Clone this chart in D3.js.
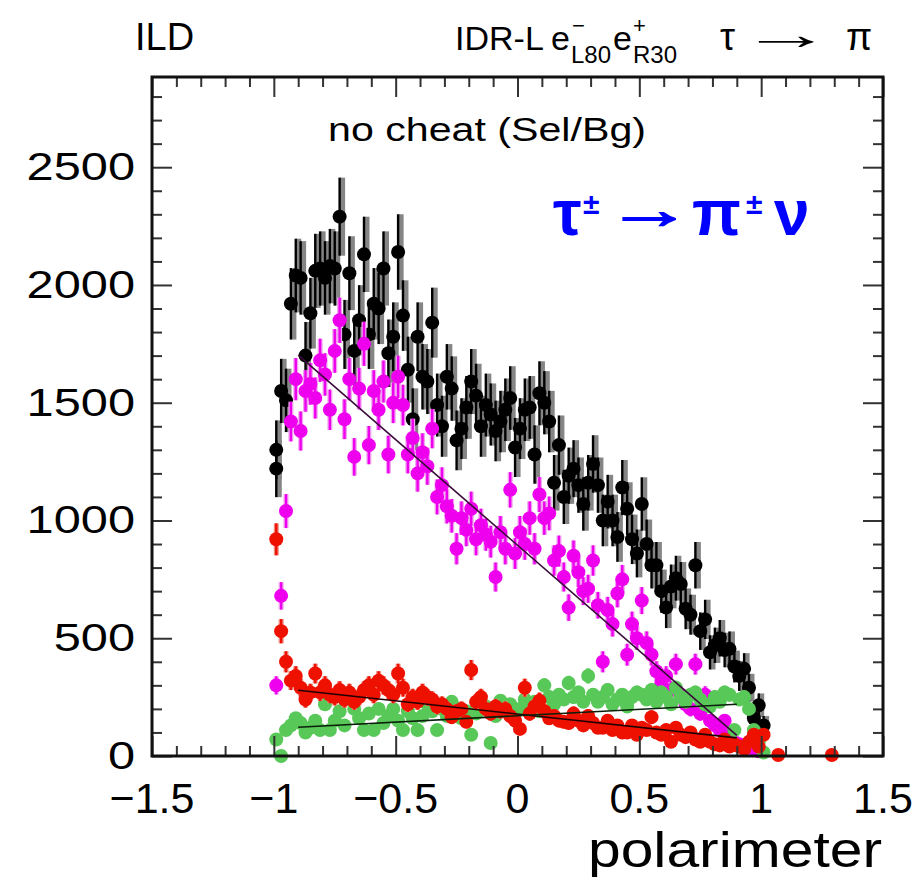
<!DOCTYPE html>
<html>
<head>
<meta charset="utf-8">
<script src="https://cdn.jsdelivr.net/npm/d3@7"></script>
<style>
  body { margin: 0; background: #fff; }
  text { font-family: "Liberation Sans", Arial, sans-serif; fill: #000; }
</style>
</head>
<body>
<script>
(function() {

    var width = 921;
    var height = 883;

    // bin centres: 100 bins of width 0.02 between -1 and 1
    const binCenters = d3.range(100).map(i => -0.99 + 0.02 * i);

    // total (selected) events, black
    const totalCounts = [
        1300, 1550, 1510, 1920, 2040, 2030, 1700, 1880, 2060, 2070,
        2030, 2080, 2070, 2290, 1790, 2050, 1720, 1850, 2130, 1790,
        1920, 1900, 2070, 1710, 1780, 2140, 1870, 1640, 1430, 1780,
        1610, 1590, 1840, 1490, 1400, 1610, 1560, 1340, 1390, 1480,
        1590, 1530, 1400, 1490, 1450, 1380, 1420, 1470, 1520, 1310,
        1390, 1470, 1480, 1280, 1540, 1500, 1420, 1160, 1320, 1100,
        1190, 1220, 1150, 1070, 1160, 1240, 1150, 1000, 1080, 1000,
        930, 1140, 1050, 920, 860, 1070, 900, 810, 810, 700,
        630, 720, 755, 730, 625, 600, 810, 530, 580, 440,
        470, 500, 450, 455, 380, 340, 370, 290, 160, 215
    ];

    // signal tau -> pi nu, magenta
    const signalCounts = [
        300, 680, 1040, 1420, 1600, 1380, 1550, 1580, 1520, 1680,
        1620, 1470, 1720, 1850, 1430, 1600, 1270, 1560, 1750, 1320,
        1550, 1470, 1590, 1280, 1500, 1610, 1490, 1280, 1350, 1200,
        1290, 1230, 1390, 1100, 1150, 1060, 1020, 880, 1010, 960,
        1050, 920, 980, 940, 910, 760, 950, 880, 1130, 860,
        950, 900, 1010, 880, 1110, 1010, 1030, 830, 870, 760,
        630, 850, 780, 700, 710, 830, 640, 400, 620, 560,
        690, 750, 430, 560, 500, 660, 480, 430, 360, 310,
        340, 280, 390, 260, 220, 200, 390, 180, 260, 150,
        130, 110, 150, 100, 60, 50, 45, 35, 30, 20
    ];

    // background, red
    const bgRedCounts = [
        920, 530, 400, 320, 340, 290, 240, 270, 350, 270,
        300, 260, 250, 280, 240, 270, 230, 250, 280, 300,
        260, 320, 300, 280, 260, 350, 290, 220, 250, 230,
        270, 250, 240, 210, 220, 200, 165, 190, 200, 145,
        365, 230, 250, 200, 180, 210, 190, 200, 170, 150,
        115, 290, 180, 210, 235, 190, 160, 170, 150, 145,
        140, 180, 150, 130, 170, 140, 120, 120, 150, 110,
        130, 100, 100, 130, 90, 120, 110, 165, 100, 90,
        110, 60, 120, 90, 80, 100, 70, 60, 90, 60,
        50, 45, 70, 40, 50, 40, 30, 60, 90, 40
    ];

    // background, green
    const bgGreenCounts = [
        70, 0, 110, 130, 160, 140, 100, 120, 150, 110,
        220, 110, 150, 190, 130, 250, 200, 160, 110, 180,
        110, 200, 140, 170, 200, 150, 110, 190, 160, 110,
        170, 220, 190, 110, 200, 170, 230, 200, 160, 190,
        90, 180, 195, 210, 55, 170, 235, 200, 220, 180,
        200, 240, 210, 230, 190, 300, 250, 220, 260, 240,
        310, 250, 270, 230, 340, 260, 230, 250, 280, 220,
        240, 260, 210, 250, 270, 260, 240, 280, 230, 270,
        250, 220, 290, 250, 230, 260, 270, 240, 220, 210,
        250, 230, 270, 260, 110, 240, 250, 200, 110, 60
    ];

    // points outside the regular bins [x, count]
    const totalExtra = [[-0.99, 1220], [1.01, 130]];
    const bgRedExtra = [[1.01, 90], [1.07, 4], [1.29, 4]];
    const bgGreenExtra = [[1.01, 15]];

    // linear fits
    const fitRange = [-0.9, 0.9];
    const fitSignal = [1702, 88];
    const fitRed = [279, 77];
    const fitGreen = [122, 220];

    const xMajor = [-1.5, -1, -0.5, 0, 0.5, 1, 1.5];
    const yMajor = [0, 500, 1000, 1500, 2000, 2500];

    //frame position
    const left = 152, right = 883, top = 77, bottom = 756;

    const x = d3.scaleLinear().domain([-1.5, 1.5]).range([left, right]);
    const y = d3.scaleLinear().domain([0, 2883]).range([bottom, top]);

    const svg = d3.select("body")
      .append("svg")
      .attr("width", width)
      .attr("height", height);

    svg.append("rect").attr("width", width).attr("height", height).attr("fill", "#fff");

    //series to draw, bottom layer first
    const series = [
        { counts: totalCounts, extra: totalExtra, color: "#000000", halo: "#858585", w: 12, shift: 3 },
        { counts: signalCounts, extra: [], color: "#ee00ee", halo: "#f2a0f2", w: 5, shift: 0 },
        { counts: bgGreenCounts, extra: bgGreenExtra, color: "#58c858", halo: "#9ee09e", w: 3, shift: 0 },
        { counts: bgRedCounts, extra: bgRedExtra, color: "#ee1100", halo: "#f08a80", w: 5, shift: 0 }
    ];

    series.forEach(s => {
        const pts = binCenters.map((c, i) => [c, s.counts[i]]).concat(s.extra);
        const g = svg.append("g");
        const err = v => Math.sqrt(s.w * v);

        //wide light error bars
        g.selectAll("line.halo")
            .data(pts)
            .join("line")
            .attr("class", "halo")
            .attr("x1", d => x(d[0]) + s.shift)
            .attr("x2", d => x(d[0]) + s.shift)
            .attr("y1", d => y(Math.max(0, d[1] - err(d[1]))))
            .attr("y2", d => y(d[1] + err(d[1])))
            .attr("stroke", s.halo)
            .attr("stroke-width", 5);

        g.selectAll("line.bar")
            .data(pts)
            .join("line")
            .attr("class", "bar")
            .attr("x1", d => x(d[0]))
            .attr("x2", d => x(d[0]))
            .attr("y1", d => y(Math.max(0, d[1] - err(d[1]))))
            .attr("y2", d => y(d[1] + err(d[1])))
            .attr("stroke", s.color)
            .attr("stroke-width", 2.4);

        g.selectAll("circle")
            .data(pts)
            .join("circle")
            .attr("cx", d => x(d[0]))
            .attr("cy", d => y(d[1]))
            .attr("r", 7)
            .attr("fill", s.color);
    });

    //fit lines
    [[fitSignal, "#3a0a3a"], [fitRed, "#220000"], [fitGreen, "#0a200a"]].forEach(f => {
        svg.append("line")
            .attr("x1", x(fitRange[0]))
            .attr("x2", x(fitRange[1]))
            .attr("y1", y(f[0][0]))
            .attr("y2", y(f[0][1]))
            .attr("stroke", f[1])
            .attr("stroke-width", 1.6);
    });

    //ticks on all four sides, pointing inside
    const xMinor = d3.range(31).map(i => -1.5 + 0.1 * i).filter(v => Math.abs(v * 2 - Math.round(v * 2)) > 1e-6);
    const yMinor = d3.range(29).map(i => i * 100).filter(v => v % 500 !== 0);

    function tickAxis(axis, tv, size, tr) {
        svg.append("g")
            .attr("transform", tr)
            .call(axis.tickValues(tv).tickSize(size).tickFormat(""))
            .call(g => g.select(".domain").remove())
            .selectAll("line").attr("stroke", "#333").attr("stroke-width", 2);
    }
    tickAxis(d3.axisTop(x), xMajor, 20, `translate(0,${bottom})`);
    tickAxis(d3.axisTop(x), xMinor, 10, `translate(0,${bottom})`);
    tickAxis(d3.axisBottom(x), xMajor, 20, `translate(0,${top})`);
    tickAxis(d3.axisBottom(x), xMinor, 10, `translate(0,${top})`);
    tickAxis(d3.axisRight(y), yMajor, 20, `translate(${left},0)`);
    tickAxis(d3.axisRight(y), yMinor, 10, `translate(${left},0)`);
    tickAxis(d3.axisLeft(y), yMajor, 20, `translate(${right},0)`);
    tickAxis(d3.axisLeft(y), yMinor, 10, `translate(${right},0)`);

    //frame
    svg.append("rect")
        .attr("x", left).attr("y", top)
        .attr("width", right - left).attr("height", bottom - top)
        .attr("fill", "none")
        .attr("stroke", "#111")
        .attr("stroke-width", 3);

    //tick labels
    const fmt = d3.format("~g");
    svg.selectAll("text.xl")
        .data(xMajor)
        .join("text")
        .attr("class", "xl")
        .attr("x", d => x(d))
        .attr("y", 813)
        .attr("text-anchor", "middle")
        .attr("font-size", 43)
        .text(d => fmt(d));

    svg.selectAll("text.yl")
        .data(yMajor)
        .join("text")
        .attr("class", "yl")
        .attr("transform", d => `translate(135,${y(d) + 13}) scale(1.25,1)`)
        .attr("text-anchor", "end")
        .attr("font-size", 39)
        .text(d => fmt(d));

    //axis title
    svg.append("text")
        .attr("x", 882).attr("y", 867)
        .attr("text-anchor", "end")
        .attr("font-size", 50)
        .attr("textLength", 294)
        .attr("lengthAdjust", "spacingAndGlyphs")
        .text("polarimeter");

    //header
    svg.append("text").attr("x", 135).attr("y", 50).attr("font-size", 38).text("ILD");
    svg.append("text").attr("x", 455).attr("y", 50).attr("font-size", 34).text("IDR-L");
    svg.append("text").attr("x", 551).attr("y", 50).attr("font-size", 34).text("e");
    svg.append("text").attr("x", 572).attr("y", 33).attr("font-size", 22).text("\u2212");
    svg.append("text").attr("x", 571).attr("y", 63).attr("font-size", 24).text("L80");
    svg.append("text").attr("x", 613).attr("y", 50).attr("font-size", 34).text("e");
    svg.append("text").attr("x", 633).attr("y", 33).attr("font-size", 22).text("+");
    svg.append("text").attr("x", 633).attr("y", 63).attr("font-size", 24).text("R30");
    svg.append("text").attr("x", 720).attr("y", 50).attr("font-size", 38).text("\u03c4");
    svg.append("text").attr("transform", "translate(740,49) scale(2.1,1)").attr("font-size", 44).text("\u2192");
    svg.append("text").attr("x", 846).attr("y", 50).attr("font-size", 38).text("\u03c0");

    svg.append("text")
        .attr("x", 487).attr("y", 141)
        .attr("text-anchor", "middle")
        .attr("font-size", 33)
        .attr("textLength", 318)
        .attr("lengthAdjust", "spacingAndGlyphs")
        .text("no cheat (Sel/Bg)");

    //decay channel label
    const blue = svg.append("g").style("font-weight", "bold");
    blue.append("text").attr("x", 553).attr("y", 235).attr("font-size", 64).style("fill", "#0000ff").text("\u03c4");
    blue.append("text").attr("x", 583).attr("y", 214).attr("font-size", 30).style("fill", "#0000ff").text("\u00b1");
    blue.append("text").attr("transform", "translate(606,228) scale(1.6,1)").attr("font-size", 54)
        .style("fill", "#0000ff").style("stroke", "#0000ff").style("stroke-width", 1.6).text("\u2192");
    blue.append("text").attr("x", 692).attr("y", 235).attr("font-size", 64).style("fill", "#0000ff").text("\u03c0");
    blue.append("text").attr("x", 746).attr("y", 214).attr("font-size", 30).style("fill", "#0000ff").text("\u00b1");
    blue.append("text").attr("x", 774).attr("y", 235).attr("font-size", 64).style("fill", "#0000ff").text("\u03bd");

})();
</script>
</body>
</html>
